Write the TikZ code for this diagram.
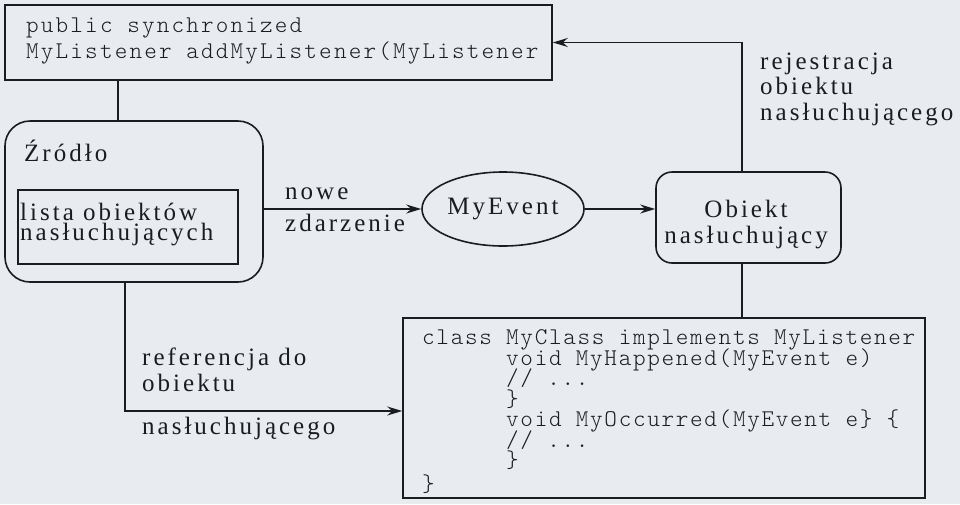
\documentclass[tikz,border=0pt]{standalone}
\usepackage{fontspec}
\setmainfont{Liberation Serif}
\newfontfamily\labfont{Liberation Serif}[LetterSpace=12]
\newfontfamily\codefont{lmmonolt10-regular.otf}[LetterSpace=9]
\newfontfamily\clsfont{lmmonolt10-regular.otf}[LetterSpace=7]
\usetikzlibrary{arrows.meta,shapes.geometric}
\definecolor{paper}{RGB}{232,236,240}
\definecolor{ink}{RGB}{28,28,30}
\newcommand\ind{\phantom{class\ }}
\newcommand\tightlines{\lineskiplimit=-30pt\relax}
\begin{document}
\begin{tikzpicture}[x=1pt,y=-1pt,
  ln/.style={draw=ink, line width=1.6pt},
  arr/.style={ln, -{Stealth[length=15pt,width=9pt,inset=5pt]}},
  lab/.style={text=ink, inner sep=0pt, align=left, font=\labfont\fontsize{25}{25.5}\selectfont},
  code/.style={text=ink, inner sep=0pt, align=left, font=\codefont\fontsize{24}{26}\selectfont},
  sqbox/.style={ln, rectangle, inner sep=0pt},
  rbox/.style={ln, rectangle, rounded corners=#1, inner sep=0pt},
  ovalbox/.style={ln, ellipse, inner sep=0pt, text=ink, font=\labfont\fontsize{25}{25.5}\selectfont}]
\fill[paper] (0,0) rectangle (960,504);
\useasboundingbox (0,0) rectangle (960,504);

% boxes (multi-line texts: base anchor = baseline of the last line)
\node[sqbox, minimum width=547pt, minimum height=75pt] (top) at (278.5,42.5) {};
\node[code, anchor=base west] (toptxt) at (26,58) {public synchronized\\MyListener addMyListener(MyListener};

\node[rbox=25pt, minimum width=258pt, minimum height=161pt] (zrodlo) at (134,201.5) {};
\node[lab, anchor=base west] (zrodlotxt) at (24,161) {Źródło};
\node[sqbox, minimum width=220pt, minimum height=74pt] (lista) at (128,227) {};
\node[lab, anchor=base west, font=\labfont\fontsize{25}{20}\selectfont\tightlines] (listatxt) at (20,240) {lista obiektów\\nasłuchujących};

\node[ovalbox, minimum width=162pt, minimum height=74pt] (ev) at (503,209) {MyEvent};

\node[rbox=16pt, minimum width=185pt, minimum height=91pt] (obj) at (748.5,217.5) {};
\node[lab, align=center, anchor=base] (objtxt) at (746,243) {Obiekt\\nasłuchujący};

\node[sqbox, minimum width=522pt, minimum height=180pt] (cls) at (664,408) {};
\node[code, anchor=base west, font=\clsfont\fontsize{24}{20.5}\selectfont\tightlines] (clstxt) at (422,491)
  {class MyClass implements MyListener\\
   \ind void MyHappened(MyEvent e)\\
   \ind // ...\\
   \ind \}\\
   \ind void MyOccurred(MyEvent e\} \{\\
   \ind // ...\\
   \ind \}\\[3pt]
   \}};

% connectors
\coordinate (vx) at (742,43);
\coordinate (ux) at (118,100);
\coordinate (wx) at (125,411);
\draw[arr] (obj.north -| vx) |- (top.east);
\draw[ln] (obj.south -| vx) -- (cls.north -| vx);
\draw[ln] (top.south -| ux) -- (zrodlo.north -| ux);
\draw[arr] (zrodlo.south -| wx) -- (wx) -- (cls.west |- wx);
\draw[arr] (zrodlo.east |- ev.west) -- (ev.west);
\draw[arr] (ev.east) -- (obj.west |- ev.east);

% labels
\node[lab, anchor=base west] (nowe) at (285,199) {nowe};
\node[lab, anchor=base west] (zdarz) at (285,231) {zdarzenie};
\node[lab, anchor=base west] (rej) at (760,120) {rejestracja\\obiektu\\nasłuchującego};
\node[lab, anchor=base west] (ref) at (142,391) {referencja do\\obiektu};
\node[lab, anchor=base west] (ref2) at (142,434) {nasłuchującego};
\end{tikzpicture}
\end{document}
